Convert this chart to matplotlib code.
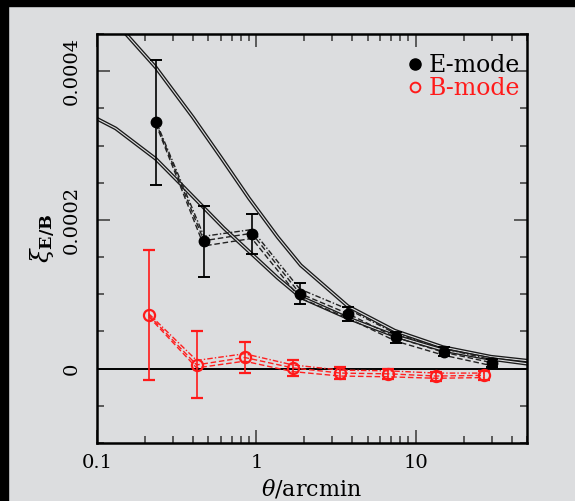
import numpy as np
import matplotlib
matplotlib.use("Agg")
import matplotlib.pyplot as plt
from matplotlib.patches import Rectangle
from matplotlib.ticker import MultipleLocator, LogLocator, NullFormatter
import matplotlib.patheffects as pe

plt.rcParams['font.family'] = ['DejaVu Serif']
plt.rcParams['mathtext.fontset'] = 'dejavuserif'

# E-mode (filled) and B-mode (open) points
theta_e = [0.234, 0.469, 0.9375, 1.875, 3.75, 7.5, 15.0, 30.0]
xi_e = [3.31e-4, 1.71e-4, 1.81e-4, 1.01e-4, 7.4e-5, 4.2e-5, 2.3e-5, 8e-6]
err_e = [8.35e-5, 4.8e-5, 2.7e-5, 1.35e-5, 9.5e-6, 7e-6, 5.5e-6, 5.5e-6]

theta_b = [0.211, 0.422, 0.844, 1.69, 3.375, 6.75, 13.5, 27.0]
xi_b = [7.2e-5, 5e-6, 1.5e-5, 1e-6, -6e-6, -7e-6, -1e-5, -9e-6]
err_b = [8.7e-5, 4.5e-5, 2.1e-5, 1.1e-5, 8e-6, 7e-6, 6e-6, 6e-6]

# dashed variants (different estimators)
e_var_a = [3.33e-4, 1.78e-4, 1.87e-4, 1.07e-4, 8.0e-5, 4.7e-5, 2.7e-5, 1.2e-5]
e_var_b = [3.31e-4, 1.72e-4, 1.82e-4, 1.01e-4, 7.4e-5, 4.2e-5, 2.2e-5, 8e-6]
e_var_c = [3.29e-4, 1.65e-4, 1.75e-4, 9.5e-5, 6.8e-5, 3.7e-5, 1.8e-5, 4e-6]
b_var_a = [7.4e-5, 1.1e-5, 2.0e-5, 5e-6, -2e-6, -3e-6, -6e-6, -6e-6]
b_var_b = [7.2e-5, 5e-6, 1.5e-5, 1e-6, -6e-6, -7e-6, -1e-5, -9e-6]
b_var_c = [7.0e-5, 1e-6, 1.0e-5, -4e-6, -1.0e-5, -1.1e-5, -1.3e-5, -1.2e-5]

# model curves
theta_m1 = [0.13, 0.152, 0.234, 0.40, 0.60, 0.90, 1.36, 1.90, 3.75, 7.4, 14.8, 29.7, 50.0]
xi_m1 = [4.8e-4, 4.5e-4, 4.05e-4, 3.38e-4, 2.84e-4, 2.29e-4, 1.77e-4, 1.39e-4,
         8.4e-5, 5.1e-5, 2.9e-5, 1.6e-5, 1.07e-5]
theta_m2 = [0.1, 0.131, 0.234, 0.336, 0.625, 1.36, 1.90, 3.75, 7.4, 14.8, 29.7, 50.0]
xi_m2 = [3.36e-4, 3.23e-4, 2.82e-4, 2.48e-4, 1.89e-4, 1.22e-4, 9.6e-5, 6.8e-5,
         4.4e-5, 2.5e-5, 1.3e-5, 6.6e-6]

xtick_vals = [0.1, 1, 10]
xtick_labels = ['0.1', '1', '10']
ytick_vals = [0, 2e-4, 4e-4]
ytick_labels = ['0', '0.0002', '0.0004']

bg = '#dcdddf'
fig = plt.figure(figsize=(5.75, 5.01), dpi=100, facecolor=bg)
fig.patches.append(Rectangle((0, 0), 8 / 575, 1, transform=fig.transFigure,
                             color='black', zorder=0))
fig.patches.append(Rectangle((0, 1 - 6 / 501), 1, 6 / 501, transform=fig.transFigure,
                             color='black', zorder=0))
ax = fig.add_axes([0.1687, 0.1158, 0.7478, 0.8164])
ax.set_facecolor(bg)

# double-stroke solid model lines
dbl = [pe.Stroke(linewidth=2.7, foreground='#1a1a1a'), pe.Stroke(linewidth=0.8, foreground=bg)]
ax.plot(theta_m1, xi_m1, color='k', lw=2.7, path_effects=dbl)
ax.plot(theta_m2, xi_m2, color='k', lw=2.7, path_effects=dbl)
ax.axhline(0, color='k', lw=1.4)

for v, ls in zip([e_var_a, e_var_b, e_var_c], ['-.', '--', '--']):
    ax.plot(theta_e, v, color='#222222', ls=ls, lw=1.0,
            dashes=(4, 2) if ls == '--' else (4, 1.5, 1, 1.5))
for v, ls in zip([b_var_a, b_var_b, b_var_c], ['-.', '--', '--']):
    ax.plot(theta_b, v, color='#ff2020', ls=ls, lw=1.0,
            dashes=(4, 2) if ls == '--' else (4, 1.5, 1, 1.5))

ax.errorbar(theta_e, xi_e, yerr=err_e, fmt='o', color='k', ms=7.5, capsize=4,
            capthick=1.4, elinewidth=1.2, zorder=5)
ax.errorbar(theta_b, xi_b, yerr=err_b, fmt='o', color='#ff1a1a', mfc='none', mew=1.6,
            ms=8, capsize=4, capthick=1.4, elinewidth=1.2, zorder=5)

ax.set_xscale('log')
ax.set_xlim(0.1, 50)
ax.set_ylim(-1e-4, 4.5e-4)
ax.set_xticks(xtick_vals, xtick_labels)
ax.xaxis.set_minor_locator(LogLocator(base=10, subs=np.arange(2, 10)))
ax.xaxis.set_minor_formatter(NullFormatter())
ax.set_yticks(ytick_vals, ytick_labels, rotation=90, va='center')
ax.yaxis.set_minor_locator(MultipleLocator(5e-5))

ax.tick_params(which='both', direction='in', top=True, right=True, color='#444444',
               labelsize=14)
ax.tick_params(which='major', length=9.5, width=1.2)
ax.tick_params(which='minor', length=5, width=1.2)
ax.tick_params(axis='x', pad=8)
ax.tick_params(axis='y', pad=12)
for s in ax.spines.values():
    s.set_linewidth(1.8)

ax.set_xlabel(r'$\theta$/arcmin', fontsize=16, labelpad=4)
ax.set_ylabel(r'$\xi_{\mathbf{E/B}}$', fontsize=18)
ax.yaxis.set_label_coords(-0.09, 0.5)

h1, = ax.plot([], [], 'o', color='k', ms=8)
h2, = ax.plot([], [], 'o', color='#ff1a1a', mfc='none', mew=1.4, ms=7)
ax.legend([h1, h2], ['E-mode', 'B-mode'], loc='upper right', bbox_to_anchor=(1.018, 0.985),
          frameon=False, fontsize=17, handlelength=0.6, handletextpad=0.3,
          labelspacing=0.0, borderaxespad=0.2, labelcolor=['black', '#ff1a1a'])

fig.savefig('out.png', dpi=100, facecolor=bg)
